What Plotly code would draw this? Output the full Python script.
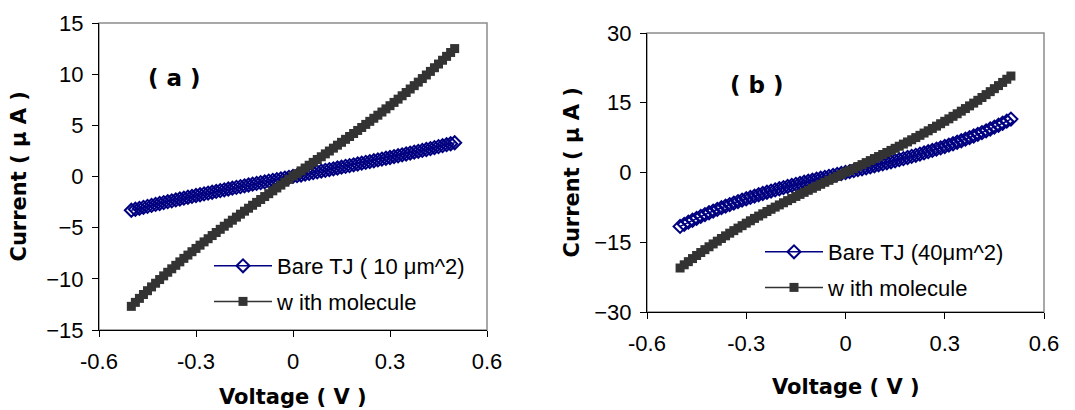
import plotly.graph_objects as go

# ---------------- data ----------------
voltage = [-0.5, -0.4875, -0.475, -0.4625, -0.45, -0.4375, -0.425, -0.4125, -0.4, -0.3875,
           -0.375, -0.3625, -0.35, -0.3375, -0.325, -0.3125, -0.3, -0.2875, -0.275, -0.2625,
           -0.25, -0.2375, -0.225, -0.2125, -0.2, -0.1875, -0.175, -0.1625, -0.15, -0.1375,
           -0.125, -0.1125, -0.1, -0.0875, -0.075, -0.0625, -0.05, -0.0375, -0.025, -0.0125,
           0.0,
           0.0125, 0.025, 0.0375, 0.05, 0.0625, 0.075, 0.0875, 0.1, 0.1125, 0.125,
           0.1375, 0.15, 0.1625, 0.175, 0.1875, 0.2, 0.2125, 0.225, 0.2375, 0.25,
           0.2625, 0.275, 0.2875, 0.3, 0.3125, 0.325, 0.3375, 0.35, 0.3625, 0.375,
           0.3875, 0.4, 0.4125, 0.425, 0.4375, 0.45, 0.4625, 0.475, 0.4875, 0.5]

bare_a = [-3.30, -3.20, -3.11, -3.01, -2.92, -2.83, -2.73, -2.64, -2.55, -2.46,
          -2.38, -2.29, -2.20, -2.12, -2.03, -1.95, -1.86, -1.78, -1.70, -1.62,
          -1.54, -1.46, -1.38, -1.30, -1.22, -1.14, -1.06, -0.99, -0.91, -0.83,
          -0.75, -0.68, -0.60, -0.53, -0.45, -0.38, -0.30, -0.23, -0.15, -0.08,
          0.02,
          0.08, 0.15, 0.23, 0.30, 0.38, 0.45, 0.53, 0.60, 0.68, 0.75,
          0.83, 0.91, 0.99, 1.06, 1.14, 1.22, 1.30, 1.38, 1.46, 1.54,
          1.62, 1.70, 1.78, 1.86, 1.95, 2.03, 2.12, 2.20, 2.29, 2.38,
          2.46, 2.55, 2.64, 2.73, 2.83, 2.92, 3.01, 3.11, 3.20, 3.30]

mol_a = [-12.69, -12.30, -11.91, -11.53, -11.16, -10.79, -10.43, -10.07, -9.71, -9.36,
         -9.02, -8.68, -8.34, -8.00, -7.68, -7.35, -7.03, -6.71, -6.39, -6.08,
         -5.77, -5.47, -5.16, -4.86, -4.56, -4.27, -3.97, -3.68, -3.39, -3.10,
         -2.81, -2.53, -2.25, -1.96, -1.68, -1.40, -1.12, -0.84, -0.56, -0.28,
         0.05,
         0.28, 0.55, 0.83, 1.10, 1.38, 1.66, 1.93, 2.21, 2.49, 2.77,
         3.06, 3.34, 3.63, 3.91, 4.20, 4.50, 4.79, 5.09, 5.39, 5.69,
         5.99, 6.30, 6.61, 6.92, 7.24, 7.56, 7.89, 8.21, 8.55, 8.88,
         9.22, 9.57, 9.92, 10.27, 10.63, 10.99, 11.36, 11.74, 12.12, 12.50]

bare_b = [-11.59, -11.14, -10.69, -10.27, -9.85, -9.44, -9.05, -8.66, -8.29, -7.93,
          -7.57, -7.23, -6.90, -6.57, -6.25, -5.94, -5.64, -5.35, -5.07, -4.79,
          -4.52, -4.25, -3.99, -3.74, -3.49, -3.25, -3.01, -2.78, -2.55, -2.32,
          -2.10, -1.88, -1.66, -1.45, -1.24, -1.03, -0.82, -0.62, -0.41, -0.21,
          0.00,
          0.20, 0.41, 0.61, 0.81, 1.02, 1.23, 1.44, 1.65, 1.86, 2.08,
          2.30, 2.52, 2.75, 2.98, 3.22, 3.46, 3.70, 3.95, 4.21, 4.47,
          4.74, 5.02, 5.30, 5.59, 5.89, 6.19, 6.51, 6.83, 7.16, 7.50,
          7.85, 8.21, 8.58, 8.96, 9.35, 9.75, 10.16, 10.59, 11.03, 11.48]

mol_b = [-20.54, -19.85, -19.17, -18.51, -17.85, -17.21, -16.59, -15.97, -15.36, -14.77,
         -14.19, -13.62, -13.05, -12.50, -11.96, -11.43, -10.90, -10.38, -9.87, -9.37,
         -8.88, -8.39, -7.91, -7.44, -6.97, -6.51, -6.05, -5.60, -5.15, -4.71,
         -4.27, -3.83, -3.40, -2.97, -2.54, -2.11, -1.69, -1.26, -0.84, -0.42,
         0.10,
         0.43, 0.85, 1.28, 1.70, 2.13, 2.56, 3.00, 3.43, 3.87, 4.31,
         4.75, 5.20, 5.65, 6.11, 6.57, 7.04, 7.51, 7.99, 8.48, 8.97,
         9.47, 9.97, 10.49, 11.01, 11.54, 12.08, 12.63, 13.19, 13.75, 14.33,
         14.92, 15.52, 16.13, 16.75, 17.39, 18.03, 18.69, 19.37, 20.05, 20.75]

x_ticks = [-0.6, -0.3, 0, 0.3, 0.6]
x_ticklabels = ["-0.6", "-0.3", "0", "0.3", "0.6"]
ya_ticks = [-15, -10, -5, 0, 5, 10, 15]
yb_ticks = [-30, -15, 0, 15, 30]

names_a = ["Bare TJ ( 10 μm^2)", "w ith molecule"]
names_b = ["Bare TJ (40μm^2)", "w ith molecule"]
panel_labels = ["( a )", "( b )"]
x_title = "Voltage ( V )"
y_title = "Current ( μ A )"

# ---------------- styling ----------------
W, H = 1075, 410
NAVY = "#000080"
DARK = "#333333"
TICKFONT = dict(family="Liberation Sans, Arial, sans-serif", size=22, color="black")
TITLEFONT = dict(family="DejaVu Sans, sans-serif", size=21, color="black", weight="bold")
LABELFONT = dict(family="DejaVu Sans, sans-serif", size=23, color="black", weight="bold")
LEGFONT = dict(family="Liberation Sans, Arial, sans-serif", size=22, color="black")


def px_x(p):
    return p / W


def px_y(p):
    return 1 - p / H


fig = go.Figure()

bare_style = dict(mode="lines+markers",
                  line=dict(color=NAVY, width=1.5),
                  marker=dict(symbol="diamond-open", size=10, color=NAVY,
                              line=dict(color=NAVY, width=2)))
mol_style = dict(mode="lines+markers",
                 line=dict(color=DARK, width=1.5),
                 marker=dict(symbol="square", size=9, color=DARK,
                             line=dict(color=DARK, width=0)))

fig.add_trace(go.Scatter(x=voltage, y=bare_a, name=names_a[0], xaxis="x", yaxis="y",
                         legend="legend", legendgroup="a1", **bare_style))
fig.add_trace(go.Scatter(x=voltage, y=mol_a, name=names_a[1], xaxis="x", yaxis="y",
                         legend="legend", legendgroup="a2", **mol_style))
fig.add_trace(go.Scatter(x=voltage, y=bare_b, name=names_b[0], xaxis="x2", yaxis="y2",
                         legend="legend2", legendgroup="b1", **bare_style))
fig.add_trace(go.Scatter(x=voltage, y=mol_b, name=names_b[1], xaxis="x2", yaxis="y2",
                         legend="legend2", legendgroup="b2", **mol_style))

axis_common = dict(showgrid=False, zeroline=False, showline=True, linecolor="black",
                   linewidth=1, ticks="outside", ticklen=6, tickcolor="black",
                   tickwidth=1, tickfont=TICKFONT, mirror=False, automargin=False)

# panel pixel boxes (left, right, top, bottom)
A = (99, 487, 23, 330)
B = (647, 1044, 33, 312)

fig.update_layout(
    width=W, height=H,
    margin=dict(l=0, r=0, t=0, b=0, autoexpand=False),
    paper_bgcolor="white", plot_bgcolor="white",
    xaxis=dict(domain=[px_x(A[0]), px_x(A[1])], range=[-0.6, 0.6], anchor="y",
               tickvals=x_ticks, ticktext=x_ticklabels, ticklabelstandoff=6, **axis_common),
    yaxis=dict(domain=[px_y(A[3]), px_y(A[2])], range=[-15, 15], anchor="x",
               tickvals=ya_ticks, ticklabelstandoff=4, **axis_common),
    xaxis2=dict(domain=[px_x(B[0]), px_x(B[1])], range=[-0.6, 0.6], anchor="y2",
                tickvals=x_ticks, ticktext=x_ticklabels, ticklabelstandoff=6, **axis_common),
    yaxis2=dict(domain=[px_y(B[3]), px_y(B[2])], range=[-30, 30], anchor="x2",
                tickvals=yb_ticks, ticklabelstandoff=4, **axis_common),
    legend=dict(x=px_x(209), y=px_y(245), xanchor="left", yanchor="top",
                bgcolor="rgba(255,255,255,0)", borderwidth=0, font=LEGFONT,
                itemwidth=58, traceorder="grouped", tracegroupgap=4),
    legend2=dict(x=px_x(760), y=px_y(231), xanchor="left", yanchor="top",
                 bgcolor="rgba(255,255,255,0)", borderwidth=0, font=LEGFONT,
                 itemwidth=58, traceorder="grouped", tracegroupgap=4),
    showlegend=True,
)

# gray plot-area border (top/right)
for xr, yr in (("x domain", "y domain"), ("x2 domain", "y2 domain")):
    fig.add_shape(type="rect", xref=xr, yref=yr, x0=0, x1=1, y0=0, y1=1,
                  line=dict(color="#8c8c8c", width=1.5), layer="below")

# axis titles and panel labels
fig.add_annotation(x=px_x((A[0] + A[1]) / 2), y=px_y(397), xref="paper", yref="paper",
                   text=x_title, showarrow=False, font=TITLEFONT, xanchor="center", yanchor="middle")
fig.add_annotation(x=px_x((B[0] + B[1]) / 2), y=px_y(387), xref="paper", yref="paper",
                   text=x_title, showarrow=False, font=TITLEFONT, xanchor="center", yanchor="middle")
fig.add_annotation(x=px_x(19), y=px_y((A[2] + A[3]) / 2), xref="paper", yref="paper",
                   text=y_title, showarrow=False, font=TITLEFONT, textangle=-90,
                   xanchor="center", yanchor="middle")
fig.add_annotation(x=px_x(572), y=px_y((B[2] + B[3]) / 2), xref="paper", yref="paper",
                   text=y_title, showarrow=False, font=TITLEFONT, textangle=-90,
                   xanchor="center", yanchor="middle")
fig.add_annotation(x=px_x(174), y=px_y(78), xref="paper", yref="paper",
                   text=panel_labels[0], showarrow=False, font=LABELFONT,
                   xanchor="center", yanchor="middle")
fig.add_annotation(x=px_x(757), y=px_y(85), xref="paper", yref="paper",
                   text=panel_labels[1], showarrow=False, font=LABELFONT,
                   xanchor="center", yanchor="middle")

fig.write_html("out.html", config={"displayModeBar": False},
               post_script="document.body.style.margin='0';")
